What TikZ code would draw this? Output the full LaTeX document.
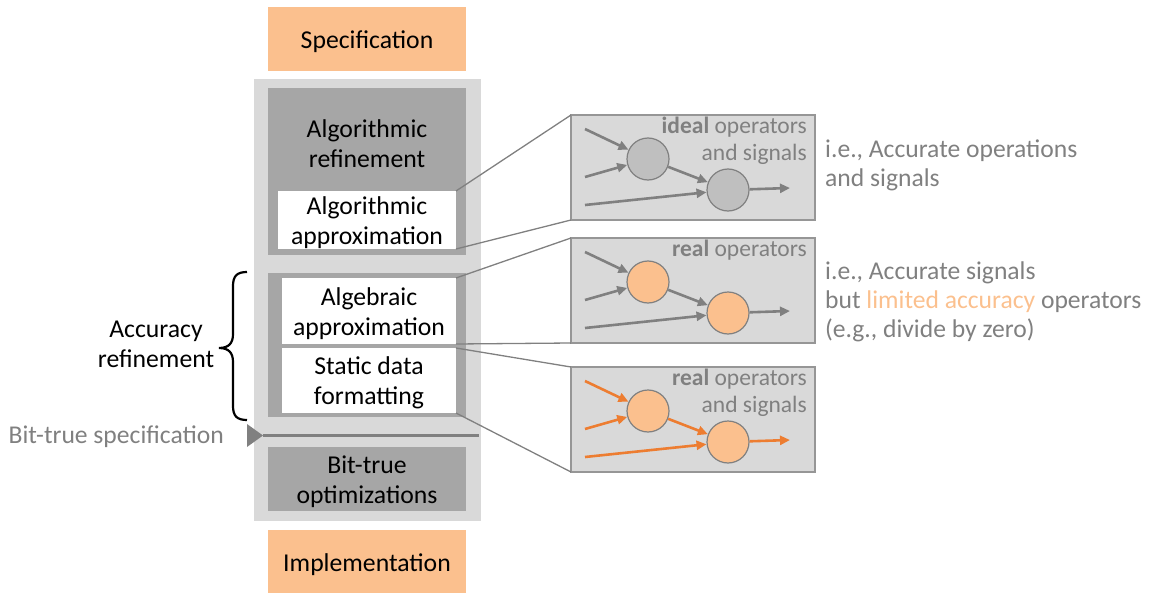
\documentclass[tikz,border=0pt]{standalone}
\usepackage{fontspec}
\setmainfont{Carlito}
\usetikzlibrary{arrows.meta}
\definecolor{orfill}{RGB}{251,192,142}
\definecolor{lgray}{RGB}{217,217,217}
\definecolor{dgray}{RGB}{166,166,166}
\definecolor{tgray}{RGB}{128,128,128}
\definecolor{cgray}{RGB}{191,191,191}
\definecolor{oarrow}{RGB}{237,125,49}
\definecolor{pborder}{RGB}{150,150,150}
\begin{document}
\begin{tikzpicture}[x=1pt,y=-1pt,
  box/.style={rectangle, inner sep=0pt, outer sep=0pt, draw=none},
  mtext/.style={font=\fontsize{25.7}{30}\selectfont, align=center, text=black},
  gtext/.style={font=\fontsize{25.6}{29}\selectfont, align=left, text=tgray, inner sep=0pt},
  ptext/.style={font=\fontsize{23.5}{27}\selectfont, align=right, text=tgray, inner sep=0pt},
  panel/.style={rectangle, draw=pborder, line width=1.5pt, fill=lgray, minimum width=244pt, minimum height=105pt, inner sep=0pt, outer sep=0pt, anchor=north west},
  opc/.style={circle, draw=tgray, line width=1.2pt, minimum size=42pt, inner sep=0pt},
  sig/.style={line width=2.6pt, -{Triangle[length=10pt,width=9pt]}},
  conn/.style={draw=tgray, line width=1.3pt}
]
\useasboundingbox (0,0) rectangle (1152,594);

% left column boxes
\node[box, fill=orfill, minimum width=198pt, minimum height=64pt] (spec) at (367,39) {};
\node[box, fill=lgray, minimum width=227pt, minimum height=442pt] (outer) at (367.5,300) {};
\node[box, fill=dgray, minimum width=198pt, minimum height=167pt] (algref) at (367,171.5) {};
\node[box, fill=white, minimum width=178pt, minimum height=58pt] (algapp) at (367,220) {};
\node[box, fill=dgray, minimum width=198pt, minimum height=144pt] (accref) at (367,345) {};
\node[box, fill=white, minimum width=174pt, minimum height=66pt] (algeb) at (369,311) {};
\node[box, fill=white, minimum width=174pt, minimum height=65pt] (static) at (369,380.5) {};
\node[box, fill=dgray, minimum width=198pt, minimum height=64pt] (bittrue) at (367,479) {};
\node[box, fill=orfill, minimum width=198pt, minimum height=63pt] (impl) at (367,561.5) {};

% left column texts
\node[mtext] (spect) at (367,42) {Specification};
\node[mtext] (algreft) at (367,144) {Algorithmic\\refinement};
\node[mtext] (algappt) at (367,222.5) {Algorithmic\\approximation};
\node[mtext] (algebt) at (369,313.5) {Algebraic\\approximation};
\node[mtext] (statict) at (369,383) {Static data\\formatting};
\node[mtext] (bittruet) at (367,482) {Bit-true\\optimizations};
\node[mtext] (implt) at (367,564.5) {Implementation};

% bit-true specification marker
\coordinate (bttip) at (263,435.5);
\coordinate (btend) at (479,435.5);
\fill[tgray] (247,424) -- (bttip) -- (247,447) -- cycle;
\draw[tgray, line width=3pt] (bttip) -- (btend);
\node[gtext, anchor=east] (btspec) at (224,437) {Bit-true specification};

% brace
\draw[black, line width=2.2pt] (247,272) .. controls (237,272) and (233,276) .. (233,286) -- (233,334)
  .. controls (233,343) and (229,348) .. (219,348) .. controls (229,348) and (233,353) .. (233,362)
  -- (233,406) .. controls (233,416) and (237,420) .. (247,420);
\node[mtext] (accuracy) at (156,344) {Accuracy\\refinement};

% panel 1
\node[panel] (p1) at (571,115) {};
\begin{scope}[shift={(571,115)}]
  \node[opc, fill=cgray] (a1) at (77,44) {};
  \node[opc, fill=cgray] (a2) at (157,75) {};
  \coordinate (a1i1) at (14,14);
  \coordinate (a1i2) at (14,62);
  \coordinate (a1i3) at (14,90);
  \coordinate (a1o) at (219,73);
  \draw[sig, draw=tgray, fill=tgray] (a1i1) -- (a1);
  \draw[sig, draw=tgray, fill=tgray] (a1i2) -- (a1);
  \draw[sig, draw=tgray, fill=tgray] (a1) -- (a2);
  \draw[sig, draw=tgray, fill=tgray] (a1i3) -- (a2);
  \draw[sig, draw=tgray, fill=tgray] (a2) -- (a1o);
  \node[ptext, anchor=east] (p1t) at (236,25.5) {\textbf{ideal} operators\\and signals};
\end{scope}

% panel 2
\node[panel] (p2) at (571,238) {};
\begin{scope}[shift={(571,238)}]
  \node[opc, fill=orfill] (b1) at (77,44) {};
  \node[opc, fill=orfill] (b2) at (157,75) {};
  \coordinate (b1i1) at (14,14);
  \coordinate (b1i2) at (14,62);
  \coordinate (b1i3) at (14,90);
  \coordinate (b1o) at (219,73);
  \draw[sig, draw=tgray, fill=tgray] (b1i1) -- (b1);
  \draw[sig, draw=tgray, fill=tgray] (b1i2) -- (b1);
  \draw[sig, draw=tgray, fill=tgray] (b1) -- (b2);
  \draw[sig, draw=tgray, fill=tgray] (b1i3) -- (b2);
  \draw[sig, draw=tgray, fill=tgray] (b2) -- (b1o);
  \node[ptext, anchor=east] (p2t) at (236,12.5) {\textbf{real} operators};
\end{scope}

% panel 3
\node[panel] (p3) at (571,367) {};
\begin{scope}[shift={(571,367)}]
  \node[opc, fill=orfill] (c1) at (77,44) {};
  \node[opc, fill=orfill] (c2) at (157,75) {};
  \coordinate (c1i1) at (14,14);
  \coordinate (c1i2) at (14,62);
  \coordinate (c1i3) at (14,90);
  \coordinate (c1o) at (219,73);
  \draw[sig, draw=oarrow, fill=oarrow] (c1i1) -- (c1);
  \draw[sig, draw=oarrow, fill=oarrow] (c1i2) -- (c1);
  \draw[sig, draw=oarrow, fill=oarrow] (c1) -- (c2);
  \draw[sig, draw=oarrow, fill=oarrow] (c1i3) -- (c2);
  \draw[sig, draw=oarrow, fill=oarrow] (c2) -- (c1o);
  \node[ptext, anchor=east] (p3t) at (236,25.5) {\textbf{real} operators\\and signals};
\end{scope}

% zoom connectors
\draw[conn] (algapp.north east) -- (p1.north west);
\draw[conn] (algapp.south east) -- (p1.south west);
\draw[conn] (algeb.north east) -- (p2.north west);
\draw[conn] (algeb.south east) -- (p2.south west);
\draw[conn] (static.north east) -- (p3.north west);
\draw[conn] (static.south east) -- (p3.south west);

% explanations
\node[gtext, anchor=west] (ex1) at (825,165) {i.e., Accurate operations\\and signals};
\node[gtext, anchor=west] (ex2) at (825,302) {i.e., Accurate signals\\but {\color{orfill}limited accuracy} operators\\(e.g., divide by zero)};
\end{tikzpicture}
\end{document}
